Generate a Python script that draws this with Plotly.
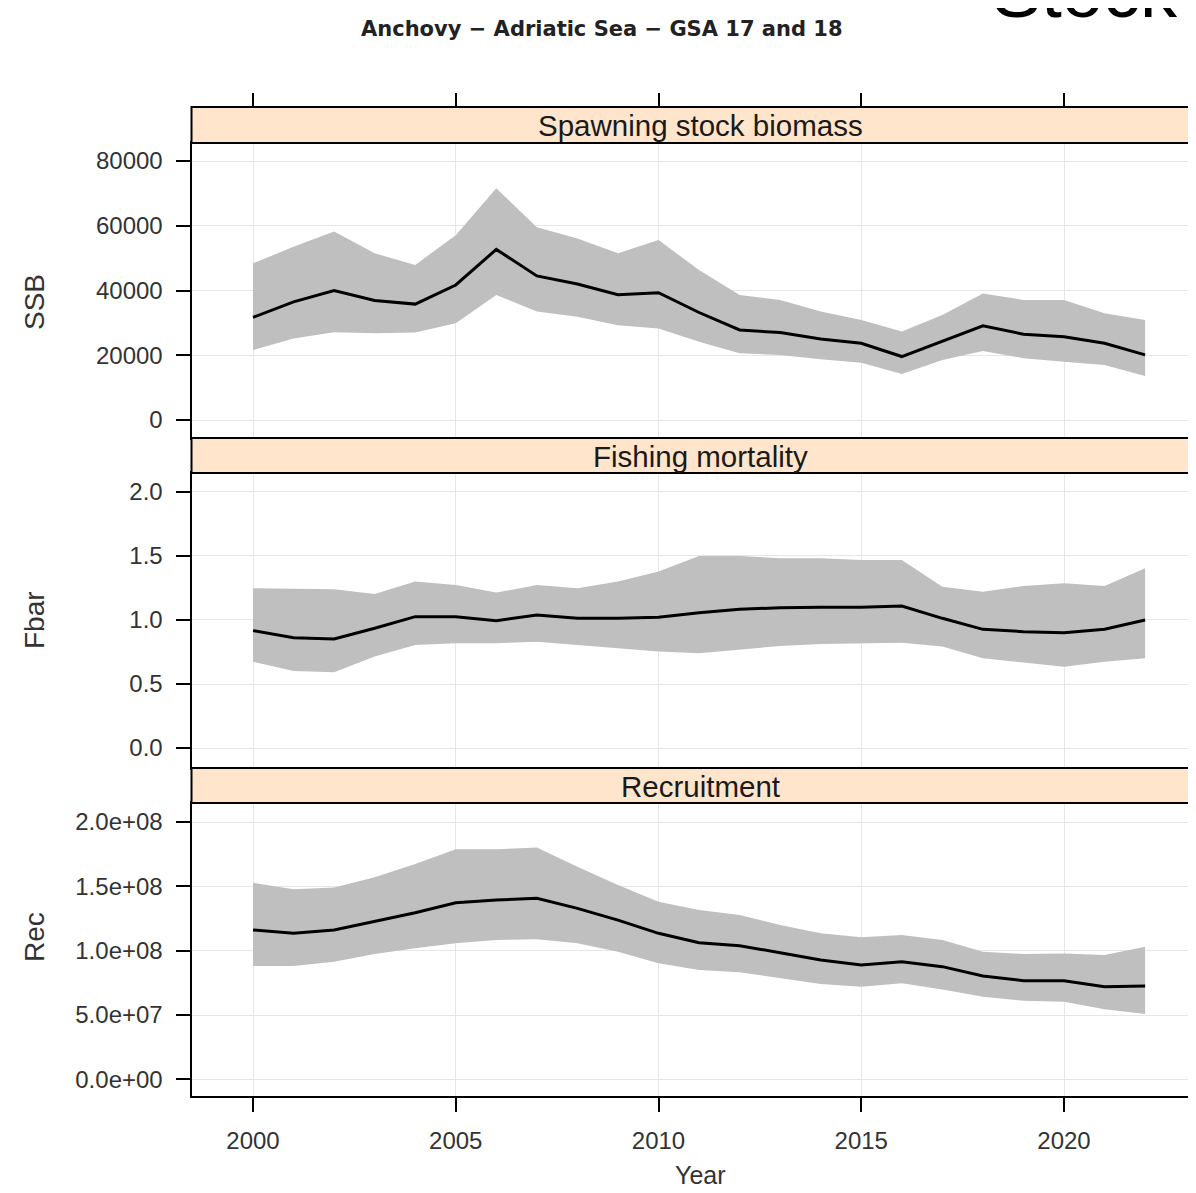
import plotly.graph_objects as go

# ---------------- data ----------------
years = [2000, 2001, 2002, 2003, 2004, 2005, 2006, 2007, 2008, 2009, 2010, 2011,
         2012, 2013, 2014, 2015, 2016, 2017, 2018, 2019, 2020, 2021, 2022]

ssb_med = [31700, 36500, 40000, 36900, 35800, 41700, 52700, 44500, 42000, 38700, 39300, 33200,
           27800, 27000, 25000, 23700, 19600, 24400, 29100, 26500, 25700, 23700, 20100]
ssb_hi = [48400, 53500, 58200, 51500, 47900, 57100, 71600, 59500, 56100, 51500, 55600, 46300,
          38600, 37100, 33500, 30900, 27300, 32400, 39100, 37100, 37100, 33000, 30900]
ssb_lo = [21600, 25200, 27100, 26800, 27000, 29900, 38600, 33500, 31900, 29300, 28300, 24200,
          20600, 20100, 18800, 17700, 14200, 18500, 21300, 19100, 18000, 17000, 13600]

f_med = [0.917, 0.862, 0.852, 0.935, 1.026, 1.026, 0.995, 1.039, 1.013, 1.013, 1.021, 1.057,
         1.083, 1.096, 1.099, 1.099, 1.109, 1.013, 0.927, 0.909, 0.901, 0.927, 1.000]
f_hi = [1.247, 1.242, 1.240, 1.203, 1.300, 1.273, 1.214, 1.273, 1.247, 1.300, 1.378, 1.500,
        1.500, 1.482, 1.482, 1.469, 1.469, 1.260, 1.221, 1.265, 1.286, 1.265, 1.404]
f_lo = [0.674, 0.602, 0.591, 0.714, 0.805, 0.818, 0.818, 0.831, 0.805, 0.779, 0.753, 0.740,
        0.771, 0.797, 0.812, 0.818, 0.823, 0.792, 0.701, 0.667, 0.635, 0.674, 0.701]

rec_med = [1.161e8, 1.135e8, 1.161e8, 1.225e8, 1.295e8, 1.373e8, 1.394e8, 1.407e8, 1.329e8, 1.238e8,
           1.135e8, 1.062e8, 1.039e8, 0.984e8, 0.927e8, 0.889e8, 0.914e8, 0.876e8, 0.803e8, 0.767e8,
           0.767e8, 0.720e8, 0.725e8]
rec_hi = [1.528e8, 1.477e8, 1.492e8, 1.570e8, 1.674e8, 1.788e8, 1.788e8, 1.803e8, 1.653e8, 1.510e8,
          1.381e8, 1.316e8, 1.277e8, 1.199e8, 1.135e8, 1.104e8, 1.122e8, 1.083e8, 0.992e8, 0.974e8,
          0.979e8, 0.966e8, 1.031e8]
rec_lo = [0.881e8, 0.881e8, 0.914e8, 0.974e8, 1.018e8, 1.057e8, 1.083e8, 1.088e8, 1.057e8, 0.992e8,
          0.902e8, 0.850e8, 0.832e8, 0.785e8, 0.741e8, 0.720e8, 0.746e8, 0.699e8, 0.642e8, 0.611e8,
          0.604e8, 0.544e8, 0.508e8]

x_ticks = [2000, 2005, 2010, 2015, 2020]
ssb_ticks = [0, 20000, 40000, 60000, 80000]
ssb_ticktext = ["0", "20000", "40000", "60000", "80000"]
f_ticks = [0.0, 0.5, 1.0, 1.5, 2.0]
f_ticktext = ["0.0", "0.5", "1.0", "1.5", "2.0"]
rec_ticks = [0, 5e7, 1e8, 1.5e8, 2e8]
rec_ticktext = ["0.0e+00", "5.0e+07", "1.0e+08", "1.5e+08", "2.0e+08"]

panel_titles = ["Spawning stock biomass", "Fishing mortality", "Recruitment"]
y_titles = ["SSB", "Fbar", "Rec"]
main_title = "Anchovy \u2212 Adriatic Sea \u2212 GSA 17 and 18"

# ---------------- layout geometry (pixels in the 1196x1193 window) ----------------
OFF = 8                      # page body margin
WIN_W, WIN_H = 1196, 1193
W, H = WIN_W - OFF, WIN_H - OFF
def py(p):
    return 1 - (p - OFF) / H
def px(p):
    return (p - OFF) / W

left = px(191.5)
panels = [(143, 438), (473, 768), (803, 1096)]
strips = [(107, 143), (438, 473), (768, 803)]
yranges = [[-5560, 85560], [-0.156, 2.148], [-1.295e7, 2.148e8]]
xrange_ = [1998.483, 2023.255]
ylab_centers = [302, 620, 937]

FONT = "Liberation Sans, Arial, Helvetica, sans-serif"
BAND = "#bfbfbf"
GRID = "#e6e6e6"
STRIP = "#ffe5cc"

fig = go.Figure()

series = [(ssb_lo, ssb_hi, ssb_med), (f_lo, f_hi, f_med), (rec_lo, rec_hi, rec_med)]
for i, (lo, hi, med) in enumerate(series):
    xa = "x" if i == 0 else f"x{i+1}"
    ya = "y" if i == 0 else f"y{i+1}"
    fig.add_trace(go.Scatter(x=years, y=lo, mode="lines", line=dict(width=0, color=BAND),
                             xaxis=xa, yaxis=ya, showlegend=False, hoverinfo="skip"))
    fig.add_trace(go.Scatter(x=years, y=hi, mode="lines", line=dict(width=0, color=BAND),
                             fill="tonexty", fillcolor=BAND,
                             xaxis=xa, yaxis=ya, showlegend=False, hoverinfo="skip"))
    fig.add_trace(go.Scatter(x=years, y=med, mode="lines", line=dict(width=3, color="black"),
                             xaxis=xa, yaxis=ya, showlegend=False))

# invisible trace for the top tick axis
fig.add_trace(go.Scatter(x=years, y=ssb_med, mode="lines", line=dict(width=0), opacity=0,
                         xaxis="x4", yaxis="y", showlegend=False, hoverinfo="skip"))

layout = dict(width=W, height=H, margin=dict(l=0, r=0, t=0, b=0),
              paper_bgcolor="white", plot_bgcolor="white", showlegend=False,
              font=dict(family=FONT, color="#333333"))

yticks = [(ssb_ticks, ssb_ticktext), (f_ticks, f_ticktext), (rec_ticks, rec_ticktext)]
for i in range(3):
    sfx = "" if i == 0 else str(i + 1)
    top, bot = panels[i]
    layout["xaxis" + sfx] = dict(
        domain=[left, 1.0], range=xrange_, anchor="y" + sfx,
        tickvals=x_ticks, showgrid=True, gridcolor=GRID, gridwidth=1,
        showline=True, linecolor="black", linewidth=2, mirror=True,
        zeroline=False,
        ticks="outside" if i == 2 else "", ticklen=14, tickwidth=1.5, tickcolor="black",
        showticklabels=(i == 2), tickfont=dict(size=24, color="#333333", family=FONT),
        ticklabelstandoff=8,
    )
    tv, tt = yticks[i]
    layout["yaxis" + sfx] = dict(
        domain=[py(bot), py(top)], range=yranges[i], anchor="x" + sfx,
        tickvals=tv, ticktext=tt, showgrid=True, gridcolor=GRID, gridwidth=1,
        showline=True, linecolor="black", linewidth=2, mirror=False, zeroline=False,
        ticks="outside", ticklen=14, tickwidth=1.5, tickcolor="black",
        tickfont=dict(size=24, color="#333333", family=FONT), ticklabelstandoff=8,
    )

layout["xaxis4"] = dict(overlaying="x", anchor="free", position=py(107), side="top",
                        range=xrange_, tickvals=x_ticks, ticks="outside", ticklen=14,
                        tickwidth=1.5, tickcolor="black", showticklabels=False,
                        showgrid=False, showline=False, zeroline=False)

shapes = []
annotations = []
for i, (st, sb) in enumerate(strips):
    shapes.append(dict(type="rect", xref="paper", yref="paper", x0=left, x1=1.02,
                       y0=py(sb), y1=py(st), fillcolor=STRIP,
                       line=dict(color="black", width=2), layer="above"))
    annotations.append(dict(text=panel_titles[i], xref="paper", yref="paper",
                            x=px(700), y=py((st + sb) / 2 + 1), xanchor="center", yanchor="middle",
                            showarrow=False, font=dict(size=29.5, color="#1a1a1a", family=FONT)))
    annotations.append(dict(text=y_titles[i], xref="paper", yref="paper",
                            x=px(34), y=py(ylab_centers[i]), xanchor="center", yanchor="middle",
                            textangle=-90, showarrow=False,
                            font=dict(size=28, color="#333333", family=FONT)))

annotations.append(dict(text="Year", xref="paper", yref="paper", x=px(700), y=py(1175),
                        xanchor="center", yanchor="middle", showarrow=False,
                        font=dict(size=25, color="#333333", family=FONT)))
annotations.append(dict(text="<b>" + main_title + "</b>", xref="paper", yref="paper",
                        x=px(602), y=py(29), xanchor="center", yanchor="middle",
                        showarrow=False,
                        font=dict(size=21, color="#222222",
                                  family="DejaVu Sans, Liberation Sans, sans-serif")))
annotations.append(dict(text="Stock", xref="paper", yref="paper", x=px(990), y=py(-9),
                        xanchor="left", yanchor="middle", showarrow=False,
                        font=dict(size=74, color="black", family=FONT)))

layout["shapes"] = shapes
layout["annotations"] = annotations
fig.update_layout(**layout)

fig.write_html("out.html")
